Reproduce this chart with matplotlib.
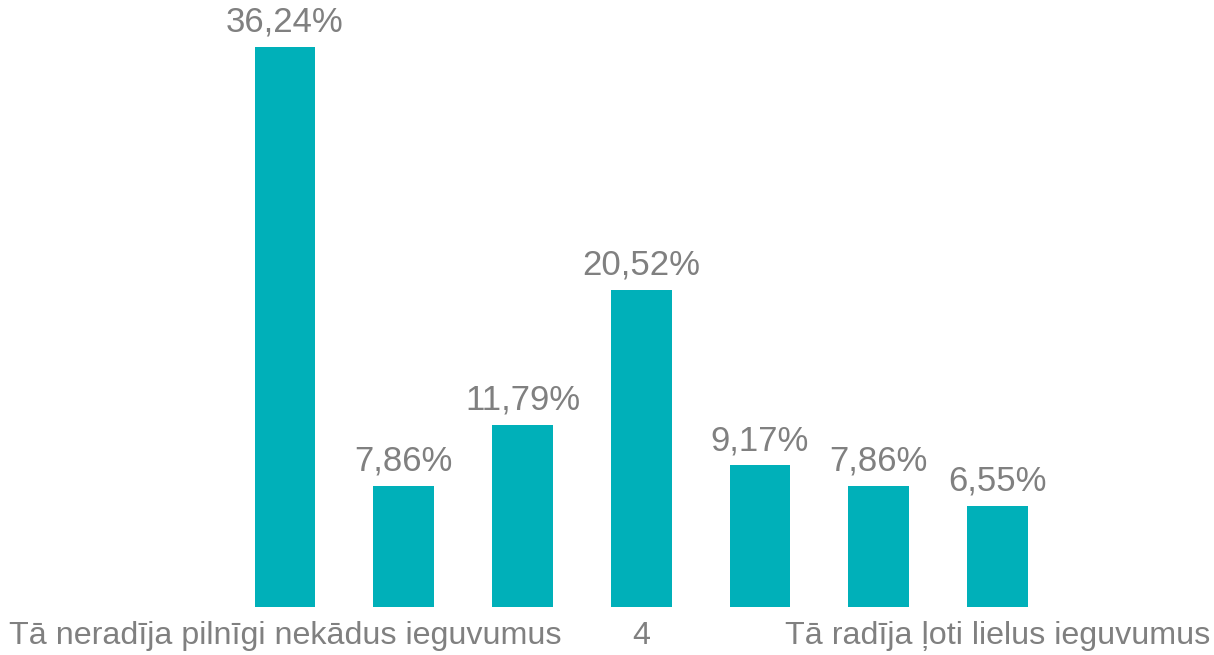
import numpy as np
import matplotlib.pyplot as plt

plt.rcParams['font.family'] = ['Liberation Sans', 'DejaVu Sans']

# chart data
categories = ["Tā neradīja pilnīgi nekādus ieguvumus", "", "", "4", "", "", "Tā radīja ļoti lielus ieguvumus"]
values = [36.24, 7.86, 11.79, 20.52, 9.17, 7.86, 6.55]
value_labels = ["36,24%", "7,86%", "11,79%", "20,52%", "9,17%", "7,86%", "6,55%"]

bar_color = '#00b0b9'
text_color = '#808080'

fig = plt.figure(figsize=(12.14, 6.55), dpi=100)
ax = fig.add_axes([0.1858, 0.0733, 0.6848, 0.9267])

x = np.arange(len(values))
bars = ax.bar(x, values, width=0.51, color=bar_color)

for xi, v, lab in zip(x, values, value_labels):
    ax.annotate(lab, (xi, v), xytext=(0, 6), textcoords='offset points',
                ha='center', va='bottom', fontsize=25, color=text_color,
                annotation_clip=False)

ax.set_xlim(-0.5, len(values) - 0.5)
ax.set_ylim(0, 39.3)
ax.set_xticks(x)
ax.set_xticklabels(categories, fontsize=23.2, color=text_color)
ax.tick_params(axis='x', length=0, pad=10)
ax.set_yticks([])
for s in ax.spines.values():
    s.set_visible(False)

fig.savefig('out.png', dpi=100)
